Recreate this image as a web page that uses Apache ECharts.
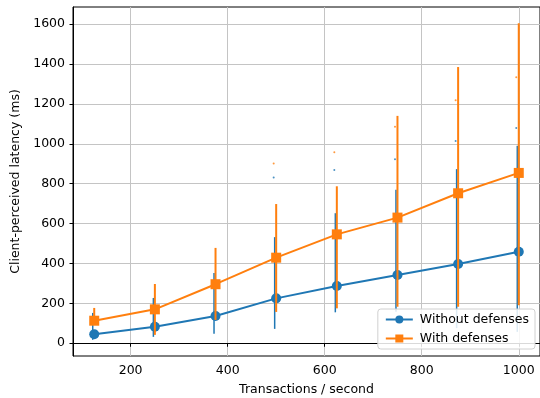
<!DOCTYPE html>
<html>
<head>
<meta charset="utf-8">
<script src="https://cdn.jsdelivr.net/npm/echarts@6/dist/echarts.min.js"></script>
<style>
  html, body { margin: 0; padding: 0; background: #fff; }
  #chart { width: 540px; height: 398px; }
</style>
</head>
<body>
<div id="chart"></div>
<script>
  // transactions per second
  var rates = [125, 250, 375, 500, 625, 750, 875, 1000]

  // mean latency (ms)
  var withoutDef = [45, 83, 137, 225, 287, 342, 397, 459]
  var withDef = [113, 170, 296, 429, 546, 630, 752, 854]

  // error bar ranges
  var withoutLow = [17, 32, 47, 72, 155, 158, 76, 57]
  var withoutHigh = [152, 227, 352, 532, 652, 770, 873, 990]
  var withLow = [92, 42, 117, 157, 175, 183, 183, 191]
  var withHigh = [177, 297, 478, 698, 787, 1140, 1385, 1604]

  // small outlier dots
  var withoutDots = [[500, 831], [625, 869], [750, 923], [875, 1014], [1000, 1079]]
  var withDots = [[500, 901], [625, 958], [750, 1085], [875, 1219], [1000, 1334]]

  var xTicks = [200, 400, 600, 800, 1000]
  var yTicks = [0, 200, 400, 600, 800, 1000, 1200, 1400, 1600]

  var blue = '#1f77b4'
  var orange = '#ff7f0e'
  var font = 'DejaVu Sans'
  var gridColor = '#c4c4c4'

  function barData (lo, hi) {
    return rates.map(function (r, i) { return [r, lo[i], hi[i]] })
  }

  // vertical error bars, dx shifts them a little in pixels
  function errorBars (name, color, lo, hi, width, dx, z) {
    return {
      name: name,
      type: 'custom',
      z: z,
      silent: true,
      data: barData(lo, hi),
      encode: { x: 0, y: [1, 2] },
      renderItem: function (params, api) {
        var a = api.coord([api.value(0), api.value(1)])
        var b = api.coord([api.value(0), api.value(2)])
        return {
          type: 'line',
          shape: { x1: a[0] + dx, y1: a[1], x2: b[0] + dx, y2: b[1] },
          style: { stroke: color, lineWidth: width },
        }
      },
    }
  }

  function plain (v) { return String(v) }

  var chart = echarts.init(document.getElementById('chart'), null, { renderer: 'canvas' })

  var option = {
    animation: false,
    grid: {
      left: 73, right: 0, top: 7, bottom: 42,
      outerBoundsMode: 'none',
      containLabel: false,
      show: true,
      borderColor: '#000',
      borderWidth: 1,
    },
    legend: {
      right: 5,
      bottom: 49,
      orient: 'vertical',
      data: ['Without defenses', 'With defenses'],
      backgroundColor: 'rgba(255,255,255,0.85)',
      borderColor: '#d0d0d0',
      borderWidth: 1,
      borderRadius: 3,
      padding: [4, 6, 4, 7],
      itemGap: 6,
      itemWidth: 27,
      itemHeight: 10,
      textStyle: { fontFamily: font, fontSize: 12.5, color: '#000', padding: [0, 0, 0, 2] },
    },
    xAxis: {
      type: 'value',
      min: 81.25,
      max: 1043.75,
      name: 'Transactions / second',
      nameLocation: 'middle',
      nameGap: 27,
      nameTextStyle: { fontFamily: font, fontSize: 12.5, color: '#000' },
      axisLine: { show: true, lineStyle: { color: '#000', width: 1 } },
      axisTick: { show: true, length: 3.5, customValues: xTicks, lineStyle: { color: '#000' } },
      axisLabel: { customValues: xTicks, formatter: plain, fontFamily: font, fontSize: 12.5, color: '#000', margin: 8 },
      splitLine: { show: true, lineStyle: { color: gridColor, width: 1 } },
    },
    yAxis: {
      type: 'value',
      min: -64,
      max: 1686,
      name: 'Client-perceived latency (ms)',
      nameLocation: 'middle',
      nameGap: 43,
      nameTextStyle: { fontFamily: font, fontSize: 12.5, color: '#000' },
      axisLine: { show: true, lineStyle: { color: '#000', width: 1 } },
      axisTick: { show: true, length: 3.5, customValues: yTicks, lineStyle: { color: '#000' } },
      axisLabel: { customValues: yTicks, formatter: plain, fontFamily: font, fontSize: 12.5, color: '#000', margin: 8 },
      splitLine: { show: true, lineStyle: { color: gridColor, width: 1 } },
    },
    series: [
      errorBars('Without defenses bars', blue, withoutLow, withoutHigh, 1.5, -1.5, 2),
      {
        name: 'Without defenses',
        type: 'line',
        z: 3,
        data: rates.map(function (r, i) { return [r, withoutDef[i]] }),
        symbol: 'circle',
        symbolSize: 10,
        lineStyle: { color: blue, width: 2 },
        itemStyle: { color: blue },
      },
      {
        name: 'Without defenses dots',
        type: 'scatter',
        z: 3,
        data: withoutDots,
        symbolSize: 2,
        symbolOffset: [-2.5, 0],
        itemStyle: { color: blue },
      },
      errorBars('With defenses bars', orange, withLow, withHigh, 2, 0, 4),
      {
        name: 'With defenses',
        type: 'line',
        z: 5,
        data: rates.map(function (r, i) { return [r, withDef[i]] }),
        symbol: 'rect',
        symbolSize: 10,
        lineStyle: { color: orange, width: 2 },
        itemStyle: { color: orange },
      },
      {
        name: 'With defenses dots',
        type: 'scatter',
        z: 5,
        data: withDots,
        symbolSize: 2,
        symbolOffset: [-2.5, 0],
        itemStyle: { color: orange },
      },
    ],
  }

  chart.setOption(option)
</script>
</body>
</html>
